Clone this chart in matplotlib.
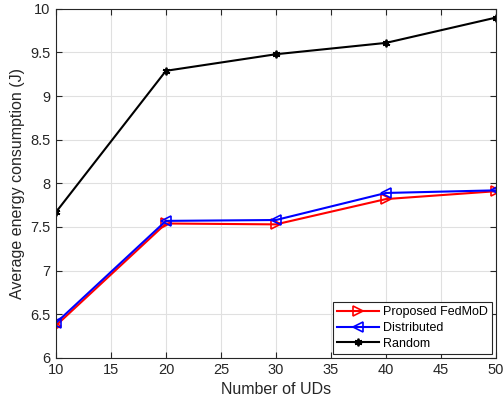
import numpy as np
import matplotlib
matplotlib.use('Agg')
import matplotlib.pyplot as plt

plt.rcParams['font.family'] = ['Liberation Sans', 'DejaVu Sans']

# data
num_uds = [10, 20, 30, 40, 50]
proposed = [6.37, 7.54, 7.53, 7.82, 7.91]
distributed = [6.40, 7.57, 7.58, 7.89, 7.92]
random_sel = [7.67, 9.29, 9.48, 9.61, 9.90]

fig = plt.figure(figsize=(5.04, 4.03), dpi=100)
ax = fig.add_axes([0.111, 0.112, 0.873, 0.866])

ax.plot(num_uds, proposed, color='red', marker='>', mfc='none', ms=7, mew=1.2,
        lw=1.5, label='Proposed FedMoD')
ax.plot(num_uds, distributed, color='blue', marker='<', mfc='none', ms=7, mew=1.2,
        lw=1.5, label='Distributed')
ax.plot(num_uds, random_sel, color='black', marker=(6, 2, 0), ms=5.5, mew=1.3,
        lw=1.5, label='Random')

ax.set_xlim(10, 50)
ax.set_ylim(6, 10)
ax.set_xticks(np.arange(10, 51, 5))
ax.set_yticks(np.arange(6, 10.01, 0.5))
ax.set_yticklabels(['6', '6.5', '7', '7.5', '8', '8.5', '9', '9.5', '10'])
ax.grid(True, color='#e0e0e0', lw=0.8)
ax.set_axisbelow(True)
ax.tick_params(direction='in', top=True, right=True, labelsize=10.5,
               colors='#262626', length=4, pad=4)
for s in ax.spines.values():
    s.set_color('#262626')
    s.set_linewidth(0.8)

ax.set_xlabel('Number of UDs', fontsize=11.5, color='#262626', labelpad=3)
ax.set_ylabel('Average energy consumption (J)', fontsize=11.5, color='#262626',
              labelpad=4)

leg = ax.legend(loc='lower right', fontsize=9, fancybox=False, framealpha=1,
                edgecolor='#262626', borderaxespad=0.3, handlelength=3.3,
                handletextpad=0.35, labelspacing=0.3, borderpad=0.35)
leg.get_frame().set_linewidth(0.8)

fig.savefig('out.png', dpi=100)
